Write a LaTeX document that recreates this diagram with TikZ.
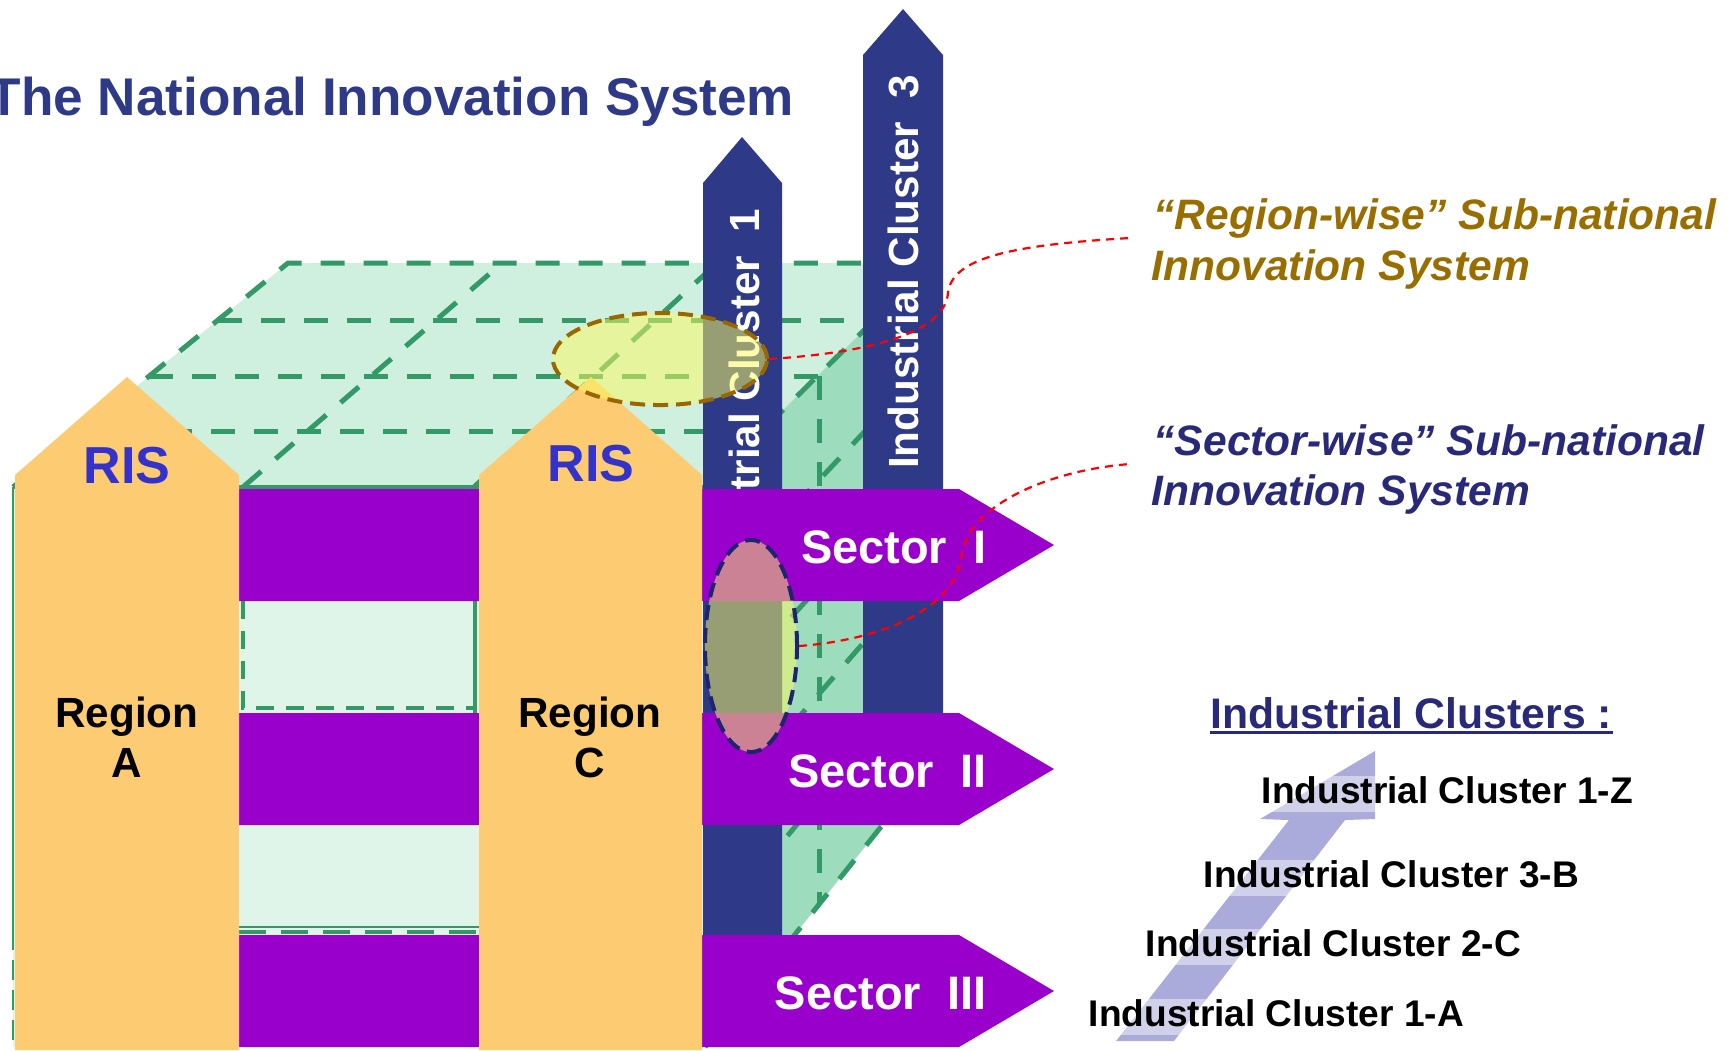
\documentclass[tikz,border=0pt]{standalone}
\usepackage{fontspec}
\setmainfont{Liberation Sans}
\usetikzlibrary{shapes.geometric}
\definecolor{topg}{RGB}{207,239,223}
\definecolor{frontg}{RGB}{223,245,234}
\definecolor{rightg}{RGB}{157,221,189}
\definecolor{gline}{RGB}{51,153,102}
\definecolor{orng}{RGB}{252,203,114}
\definecolor{purp}{RGB}{153,0,204}
\definecolor{navybar}{RGB}{46,58,135}
\definecolor{risblue}{RGB}{51,51,204}
\definecolor{goldtxt}{RGB}{153,110,0}
\definecolor{navytxt}{RGB}{41,41,122}
\definecolor{lav}{RGB}{170,170,219}
\definecolor{ellfill}{RGB}{250,250,97}
\definecolor{ellbrown}{RGB}{153,102,0}
\definecolor{ellnavy}{RGB}{31,36,112}
\newcommand\myfs[1]{\fontsize{#1pt}{#1pt}\selectfont}
\begin{document}
\begin{tikzpicture}[x=0.01cm,y=-0.01cm,
  every node/.style={inner sep=0pt},
  gdash/.style={draw=gline,line width=0.05cm,dash pattern=on 0.24cm off 0.19cm},
  gsolid/.style={draw=gline,line width=0.04cm},
  reddash/.style={draw=red,line width=0.022cm,dash pattern=on 0.08cm off 0.06cm},
  bartext/.style={text=white,font=\bfseries\myfs{12}},
  sectext/.style={text=white,font=\bfseries\myfs{13.35},anchor=base east},
  ristext/.style={text=risblue,font=\bfseries\myfs{14.8},anchor=base},
  regtext/.style={text=black,font=\bfseries\myfs{12},anchor=base},
  notetext/.style={anchor=base west,font=\bfseries\itshape\myfs{12.1}},
  legitem/.style={anchor=base west,font=\bfseries\myfs{10.55},fill=white,fill opacity=0.45,text opacity=1,text depth=0.09cm},
  ellbase/.style={ellipse,line width=0.04cm,dash pattern=on 0.15cm off 0.08cm,fill=ellfill,fill opacity=0.52}
]
\useasboundingbox (0,0) rectangle (1736,1050);
\clip (0,0) rectangle (1736,1050);

% ---- faces of the box
\fill[topg] (13,487) -- (288,263) -- (932,263) -- (705,487) -- cycle;
\fill[rightg] (705,487) -- (932,263) -- (932,763) -- (705,1047) -- cycle;
\fill[frontg] (13,487) rectangle (705,1047);

% ---- top face grid
\draw[gdash] (13,487) -- (288,263) -- (932,263);
\draw[gdash] (705,487) -- (932,263);
\draw[gdash] (243,487) -- (502,263);
\draw[gdash] (474,487) -- (717,263);
\draw[gdash] (218,320) -- (872,320);
\draw[gdash] (149,376) -- (819,376);
\draw[gdash] (82,431) -- (762,431);
% ---- right face grid
\draw[gdash] (819,376) -- (819,903);
\foreach \a/\b in {601/360,713/461,825/564,935/662,1047/763}
  \draw[gdash] (705,\a) -- (932,\b);
% ---- front face lines
\draw[gsolid] (13,487) -- (705,487);
\draw[gline,line width=0.025cm] (13,487) -- (13,930);
\draw[gline,line width=0.025cm,dash pattern=on 0.2cm off 0.1cm] (13,930) -- (13,1050);
\draw[gline,line width=0.035cm,dash pattern=on 0.18cm off 0.12cm] (243,601) -- (243,708) -- (475,708);
\draw[gline,line width=0.035cm] (475,601) -- (475,713);
\draw[gline,line width=0.02cm] (239,927) -- (479,927);
\draw[gline,line width=0.035cm,dash pattern=on 0.27cm off 0.15cm] (239,932) -- (479,932);

% ---- industrial cluster bars
\fill[navybar] (703,935) -- (703,183) -- (742,137) -- (782,183) -- (782,935) -- cycle;
\node[bartext,rotate=90] (ic1) at (744,406) {Industrial Cluster\ \ 1};
\fill[navybar] (863,713) -- (863,55) -- (903,9) -- (943,55) -- (943,713) -- cycle;
\node[bartext,rotate=90] (ic3) at (903,272) {Industrial Cluster\ \ 3};

% ---- sector bands
\foreach \o/\nm/\lab in {0/s1/I,224/s2/II,446/s3/III}{
  \fill[purp] (239,489+\o) -- (959,489+\o) -- (1054,545+\o) -- (959,601+\o) -- (239,601+\o) -- cycle;
  \node[sectext] (\nm) at (987,563+\o) {Sector\ \ \lab};
}

% ---- region arrows
\fill[orng] (15,1050) -- (15,475) -- (127,377) -- (239,475) -- (239,1050) -- cycle;
\fill[orng] (479,1050) -- (479,475) -- (591,377) -- (702,475) -- (702,1050) -- cycle;
\node[ristext] (risa) at (127,483) {RIS};
\node[ristext] (risc) at (591,481) {RIS};
\node[regtext] (rega1) at (127,727) {Region};
\node[regtext] (rega2) at (127,777) {A};
\node[regtext] (regc1) at (590,727) {Region};
\node[regtext] (regc2) at (590,777) {C};

% ---- highlight ellipses
\node[ellbase,draw=ellbrown,minimum width=2.14cm,minimum height=0.92cm] (regell) at (660,359) {};
\node[ellbase,draw=ellnavy,minimum width=0.92cm,minimum height=2.12cm] (secell) at (751,646) {};

% ---- title
\node[anchor=base west,text=navybar,font=\bfseries\myfs{15.1}] (title) at (-12,115) {The National Innovation System};

% ---- notes
\node[notetext,text=goldtxt] (rw1) at (1153,229) {“Region-wise” Sub-national};
\node[notetext,text=goldtxt] (rw2) at (1151,280) {Innovation System};
\node[notetext,text=navytxt] (sw1) at (1153,455) {“Sector-wise” Sub-national};
\node[notetext,text=navytxt] (sw2) at (1151,505) {Innovation System};
\coordinate (rwend) at (1130,238);
\coordinate (swend) at (1130,464);
\draw[reddash] (regell.east) .. controls (880,352) and (945,330) .. (948,293)
  .. controls (952,258) and (1010,245) .. (rwend);
\draw[reddash] (secell.east) .. controls (880,640) and (955,610) .. (962,555)
  .. controls (968,505) and (1050,470) .. (swend);

% ---- legend
\node[anchor=base west,text=navytxt,font=\bfseries\myfs{12.15}] (leghead) at (1210,728) {Industrial Clusters :};
\draw[navytxt,line width=0.03cm] ([yshift=-0.045cm]leghead.base west) -- ([yshift=-0.045cm]leghead.base east);
\fill[lav] (1116,1041) -- (1289,820) -- (1260,819) -- (1375,751) -- (1375,819) -- (1345,820) -- (1174,1041) -- cycle;
\node[legitem] (l1z) at (1261,803) {Industrial Cluster 1-Z};
\node[legitem] (l3b) at (1203,887) {Industrial Cluster 3-B};
\node[legitem] (l2c) at (1145,956) {Industrial Cluster 2-C};
\node[legitem] (l1a) at (1088,1026) {Industrial Cluster 1-A};
\end{tikzpicture}
\end{document}
